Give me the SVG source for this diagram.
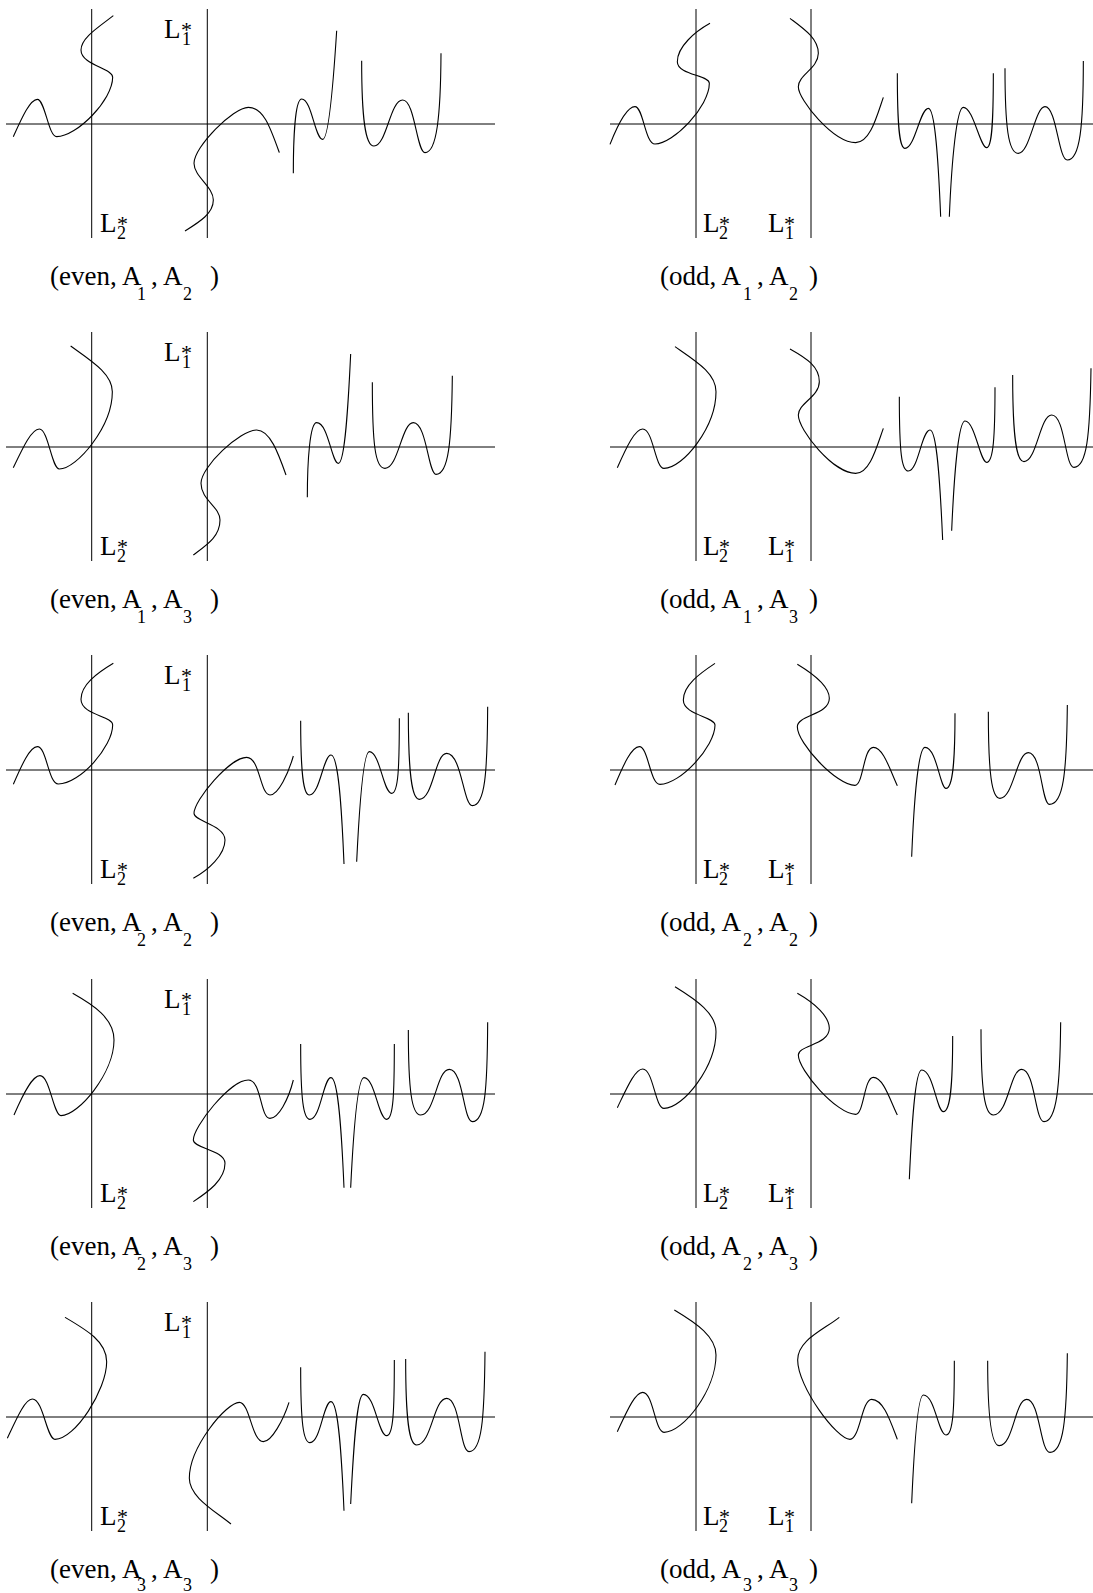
<svg xmlns="http://www.w3.org/2000/svg" width="1093" height="1593" viewBox="0 0 1093 1593">
<style>
.ax{stroke:#000;stroke-width:1;fill:none}
.cv path{stroke:#000;stroke-width:1.1;fill:none;vector-effect:non-scaling-stroke}
text{font-family:"Liberation Serif","Times New Roman",serif;fill:#000}
.t{font-size:27px}
.s{font-size:18px}
.st{font-size:22px}
</style>
<rect width="1093" height="1593" fill="#fff"/>

<!-- Row 1 -->
<g id="panel-even-A1-A2">
<path class="ax" d="M6,124H495M91.7,9V238M207.3,9V238"/>
<text class="t" x="164" y="38">L</text><text class="st" x="181" y="37">*</text><text class="s" x="182" y="45">1</text>
<text class="t" x="100" y="232">L</text><text class="st" x="117" y="231">*</text><text class="s" x="117" y="239">2</text>
<text class="t" x="50" y="285">(even, A</text><text class="s" x="137" y="300">1</text><text class="t" x="151" y="285">, A</text><text class="s" x="183" y="300">2</text><text class="t" x="210" y="285">)</text>
<g class="cv" transform="translate(0,0) scale(0.333333)">
<path d="M40,410 C65,355 90,298 112,298 C135,298 145,410 170,410 C230,410 338,300 338,232 C338,205 243,195 243,150 C243,115 290,85 340,47"/>
<path d="M838,458 C810,380 790,322 745,322 C700,322 582,440 582,490 C582,530 640,560 640,600 C640,640 600,665 555,693"/>
<path d="M880,520 C880,420 885,297 905,297 C935,297 945,418 968,418 C985,418 1000,250 1010,92"/>
<path d="M1085,182 C1085,350 1095,438 1122,438 C1160,438 1170,300 1208,300 C1245,300 1250,458 1275,458 C1310,458 1322,350 1323,160"/>
</g>
</g>

<g id="panel-odd-A1-A2">
<path class="ax" d="M610,124H1093M696,9V238M811,9V238"/>
<text class="t" x="703" y="232">L</text><text class="st" x="719" y="231">*</text><text class="s" x="719" y="239">2</text>
<text class="t" x="768" y="232">L</text><text class="st" x="784" y="231">*</text><text class="s" x="785" y="239">1</text>
<text class="t" x="660" y="285">(odd, A</text><text class="s" x="743" y="300">1</text><text class="t" x="757" y="285">, A</text><text class="s" x="789" y="300">2</text><text class="t" x="809" y="285">)</text>
<g class="cv" transform="translate(590,0) scale(0.333333)">
<path d="M60,433 C85,370 110,320 135,320 C160,320 165,432 195,432 C250,432 358,320 358,250 C358,225 262,225 262,185 C262,140 315,95 360,70"/>
<path d="M600,55 C640,85 685,115 685,160 C685,205 625,225 625,260 C625,300 730,428 797,428 C840,428 860,350 880,292"/>
<path d="M922,220 C922,380 928,445 945,445 C975,445 990,325 1015,325 C1035,325 1045,480 1052,650"/>
<path d="M1078,650 C1085,480 1100,322 1120,322 C1150,322 1170,443 1190,443 C1205,443 1210,380 1210,220"/>
<path d="M1245,205 C1245,380 1255,460 1285,460 C1320,460 1335,320 1365,320 C1400,320 1405,480 1432,480 C1470,480 1480,380 1480,183"/>
</g>
</g>

<!-- Row 2 -->
<g id="panel-even-A1-A3">
<path class="ax" d="M6,447H495M91.7,332V561M207.3,332V561"/>
<text class="t" x="164" y="361">L</text><text class="st" x="181" y="360">*</text><text class="s" x="182" y="368">1</text>
<text class="t" x="100" y="555">L</text><text class="st" x="117" y="554">*</text><text class="s" x="117" y="562">2</text>
<text class="t" x="50" y="608">(even, A</text><text class="s" x="137" y="623">1</text><text class="t" x="151" y="608">, A</text><text class="s" x="183" y="623">3</text><text class="t" x="210" y="608">)</text>
<g class="cv" transform="translate(0,320) scale(0.333333)">
<path d="M40,443 C70,380 95,327 118,327 C145,327 155,447 178,447 C230,447 337,320 337,215 C337,160 270,120 212,78"/>
<path d="M858,465 C835,400 810,330 770,330 C720,330 603,440 603,490 C603,540 660,560 660,600 C660,650 620,675 580,705"/>
<path d="M922,532 C922,420 930,308 950,308 C985,308 995,430 1015,430 C1035,430 1045,250 1052,102"/>
<path d="M1117,187 C1117,370 1125,445 1155,445 C1195,445 1205,308 1240,308 C1280,308 1285,463 1308,463 C1345,463 1355,370 1357,167"/>
</g>
</g>

<g id="panel-odd-A1-A3">
<path class="ax" d="M610,447H1093M696,332V561M811,332V561"/>
<text class="t" x="703" y="555">L</text><text class="st" x="719" y="554">*</text><text class="s" x="719" y="562">2</text>
<text class="t" x="768" y="555">L</text><text class="st" x="784" y="554">*</text><text class="s" x="785" y="562">1</text>
<text class="t" x="660" y="608">(odd, A</text><text class="s" x="743" y="623">1</text><text class="t" x="757" y="608">, A</text><text class="s" x="789" y="623">3</text><text class="t" x="809" y="608">)</text>
<g class="cv" transform="translate(590,320) scale(0.333333)">
<path d="M82,443 C110,380 135,327 158,327 C190,327 195,445 222,445 C280,445 378,320 378,215 C378,160 320,125 255,80"/>
<path d="M600,87 C650,115 688,140 688,185 C688,230 625,250 625,285 C625,330 730,460 797,460 C840,460 860,380 880,325"/>
<path d="M928,230 C928,400 935,453 955,453 C985,453 995,330 1020,330 C1040,330 1050,480 1058,660"/>
<path d="M1085,632 C1092,470 1105,303 1125,303 C1155,303 1170,427 1190,427 C1210,427 1215,350 1215,202"/>
<path d="M1268,165 C1268,360 1280,425 1302,425 C1340,425 1350,285 1385,285 C1425,285 1425,442 1452,442 C1490,442 1500,350 1503,145"/>
</g>
</g>

<!-- Row 3 -->
<g id="panel-even-A2-A2">
<path class="ax" d="M6,770H495M91.7,655V884M207.3,655V884"/>
<text class="t" x="164" y="684">L</text><text class="st" x="181" y="683">*</text><text class="s" x="182" y="691">1</text>
<text class="t" x="100" y="878">L</text><text class="st" x="117" y="877">*</text><text class="s" x="117" y="885">2</text>
<text class="t" x="50" y="931">(even, A</text><text class="s" x="137" y="946">2</text><text class="t" x="151" y="931">, A</text><text class="s" x="183" y="946">2</text><text class="t" x="210" y="931">)</text>
<g class="cv" transform="translate(0,640) scale(0.333333)">
<path d="M40,433 C65,375 90,320 112,320 C140,320 145,432 175,432 C240,432 338,320 338,255 C338,228 243,225 243,178 C243,135 290,100 340,70"/>
<path d="M880,348 C865,400 835,465 810,465 C780,465 780,352 740,352 C690,352 582,480 582,520 C582,545 675,555 675,600 C675,645 625,690 580,715"/>
<path d="M902,242 C902,400 910,465 928,465 C960,465 970,345 993,345 C1015,345 1025,500 1032,672"/>
<path d="M1070,665 C1078,500 1090,335 1108,335 C1140,335 1150,460 1175,460 C1195,460 1198,380 1198,235"/>
<path d="M1225,218 C1225,400 1235,478 1258,478 C1300,478 1305,340 1340,340 C1385,340 1390,497 1417,497 C1455,497 1462,400 1463,200"/>
</g>
</g>

<g id="panel-odd-A2-A2">
<path class="ax" d="M610,770H1093M696,655V884M811,655V884"/>
<text class="t" x="703" y="878">L</text><text class="st" x="719" y="877">*</text><text class="s" x="719" y="885">2</text>
<text class="t" x="768" y="878">L</text><text class="st" x="784" y="877">*</text><text class="s" x="785" y="885">1</text>
<text class="t" x="660" y="931">(odd, A</text><text class="s" x="743" y="946">2</text><text class="t" x="757" y="931">, A</text><text class="s" x="789" y="946">2</text><text class="t" x="809" y="931">)</text>
<g class="cv" transform="translate(590,640) scale(0.333333)">
<path d="M75,435 C100,375 125,320 148,320 C175,320 180,433 210,433 C270,433 375,320 375,255 C375,230 280,225 280,180 C280,135 330,100 375,70"/>
<path d="M622,73 C675,105 718,140 718,175 C718,225 622,225 622,260 C622,310 740,436 795,436 C820,436 820,322 850,322 C880,322 900,390 922,437"/>
<path d="M965,650 C972,480 985,322 1005,322 C1040,322 1050,445 1068,445 C1090,445 1095,350 1095,220"/>
<path d="M1195,215 C1195,400 1205,475 1230,475 C1270,475 1280,338 1315,338 C1355,338 1355,493 1378,493 C1420,493 1430,400 1432,195"/>
</g>
</g>

<!-- Row 4 -->
<g id="panel-even-A2-A3">
<path class="ax" d="M6,1094H495M91.7,979V1208M207.3,979V1208"/>
<text class="t" x="164" y="1008">L</text><text class="st" x="181" y="1007">*</text><text class="s" x="182" y="1015">1</text>
<text class="t" x="100" y="1202">L</text><text class="st" x="117" y="1201">*</text><text class="s" x="117" y="1209">2</text>
<text class="t" x="50" y="1255">(even, A</text><text class="s" x="137" y="1270">2</text><text class="t" x="151" y="1255">, A</text><text class="s" x="183" y="1270">3</text><text class="t" x="210" y="1255">)</text>
<g class="cv" transform="translate(0,960) scale(0.333333)">
<path d="M42,465 C70,400 97,347 120,347 C150,347 160,467 183,467 C235,467 342,340 342,240 C342,175 280,135 218,100"/>
<path d="M880,360 C865,420 835,475 810,475 C780,475 785,360 745,360 C690,360 580,500 580,540 C580,565 675,570 675,610 C675,660 625,695 580,725"/>
<path d="M902,252 C902,420 910,478 930,478 C962,478 970,353 993,353 C1015,353 1025,520 1032,683"/>
<path d="M1052,683 C1060,520 1072,353 1092,353 C1125,353 1135,478 1160,478 C1180,478 1183,400 1183,252"/>
<path d="M1225,210 C1225,390 1235,465 1262,465 C1305,465 1310,328 1348,328 C1390,328 1390,485 1417,485 C1455,485 1462,390 1463,187"/>
</g>
</g>

<g id="panel-odd-A2-A3">
<path class="ax" d="M610,1094H1093M696,979V1208M811,979V1208"/>
<text class="t" x="703" y="1202">L</text><text class="st" x="719" y="1201">*</text><text class="s" x="719" y="1209">2</text>
<text class="t" x="768" y="1202">L</text><text class="st" x="784" y="1201">*</text><text class="s" x="785" y="1209">1</text>
<text class="t" x="660" y="1255">(odd, A</text><text class="s" x="743" y="1270">2</text><text class="t" x="757" y="1255">, A</text><text class="s" x="789" y="1270">3</text><text class="t" x="809" y="1255">)</text>
<g class="cv" transform="translate(590,960) scale(0.333333)">
<path d="M82,443 C110,385 135,327 158,327 C190,327 195,445 222,445 C280,445 378,320 378,215 C378,160 320,120 255,80"/>
<path d="M622,100 C675,130 718,170 718,205 C718,255 625,255 625,285 C625,330 740,463 797,463 C822,463 822,352 850,352 C880,352 900,420 922,465"/>
<path d="M958,658 C965,500 975,330 995,330 C1030,330 1040,455 1060,455 C1082,455 1088,370 1088,228"/>
<path d="M1173,208 C1173,400 1185,465 1210,465 C1255,465 1260,328 1295,328 C1335,328 1335,485 1362,485 C1400,485 1410,380 1412,187"/>
</g>
</g>

<!-- Row 5 -->
<g id="panel-even-A3-A3">
<path class="ax" d="M6,1417H495M91.7,1302V1531M207.3,1302V1531"/>
<text class="t" x="164" y="1331">L</text><text class="st" x="181" y="1330">*</text><text class="s" x="182" y="1338">1</text>
<text class="t" x="100" y="1525">L</text><text class="st" x="117" y="1524">*</text><text class="s" x="117" y="1532">2</text>
<text class="t" x="50" y="1578">(even, A</text><text class="s" x="137" y="1591">3</text><text class="t" x="151" y="1578">, A</text><text class="s" x="183" y="1591">3</text><text class="t" x="210" y="1578">)</text>
<g class="cv" transform="translate(0,1280) scale(0.333333)">
<path d="M22,475 C50,415 75,357 97,357 C130,357 140,478 165,478 C225,478 320,330 320,245 C320,185 260,150 195,112"/>
<path d="M867,367 C850,420 815,485 790,485 C755,485 750,367 718,367 C680,367 568,500 568,595 C568,650 640,690 693,732"/>
<path d="M902,262 C902,430 910,488 930,488 C962,488 970,365 993,365 C1015,365 1025,530 1032,692"/>
<path d="M1052,672 C1060,510 1070,343 1090,343 C1125,343 1135,467 1160,467 C1180,467 1183,390 1183,240"/>
<path d="M1217,237 C1217,420 1227,495 1250,495 C1295,495 1300,355 1340,355 C1380,355 1380,515 1407,515 C1445,515 1453,420 1455,215"/>
</g>
</g>

<g id="panel-odd-A3-A3">
<path class="ax" d="M610,1417H1093M696,1302V1531M811,1302V1531"/>
<text class="t" x="703" y="1525">L</text><text class="st" x="719" y="1524">*</text><text class="s" x="719" y="1532">2</text>
<text class="t" x="768" y="1525">L</text><text class="st" x="784" y="1524">*</text><text class="s" x="785" y="1532">1</text>
<text class="t" x="660" y="1578">(odd, A</text><text class="s" x="743" y="1591">3</text><text class="t" x="757" y="1578">, A</text><text class="s" x="789" y="1591">3</text><text class="t" x="809" y="1578">)</text>
<g class="cv" transform="translate(590,1280) scale(0.333333)">
<path d="M82,455 C110,395 135,337 158,337 C190,337 195,457 222,457 C280,457 378,330 378,225 C378,170 320,130 253,90"/>
<path d="M748,112 C700,150 623,180 623,240 C623,320 740,478 780,478 C810,478 815,358 845,358 C880,358 900,420 922,478"/>
<path d="M965,670 C972,510 982,345 1000,345 C1035,345 1045,465 1068,465 C1090,465 1093,380 1093,242"/>
<path d="M1193,242 C1193,420 1205,497 1228,497 C1270,497 1275,358 1310,358 C1350,358 1350,517 1380,517 C1420,517 1430,420 1432,220"/>
</g>
</g>
</svg>
